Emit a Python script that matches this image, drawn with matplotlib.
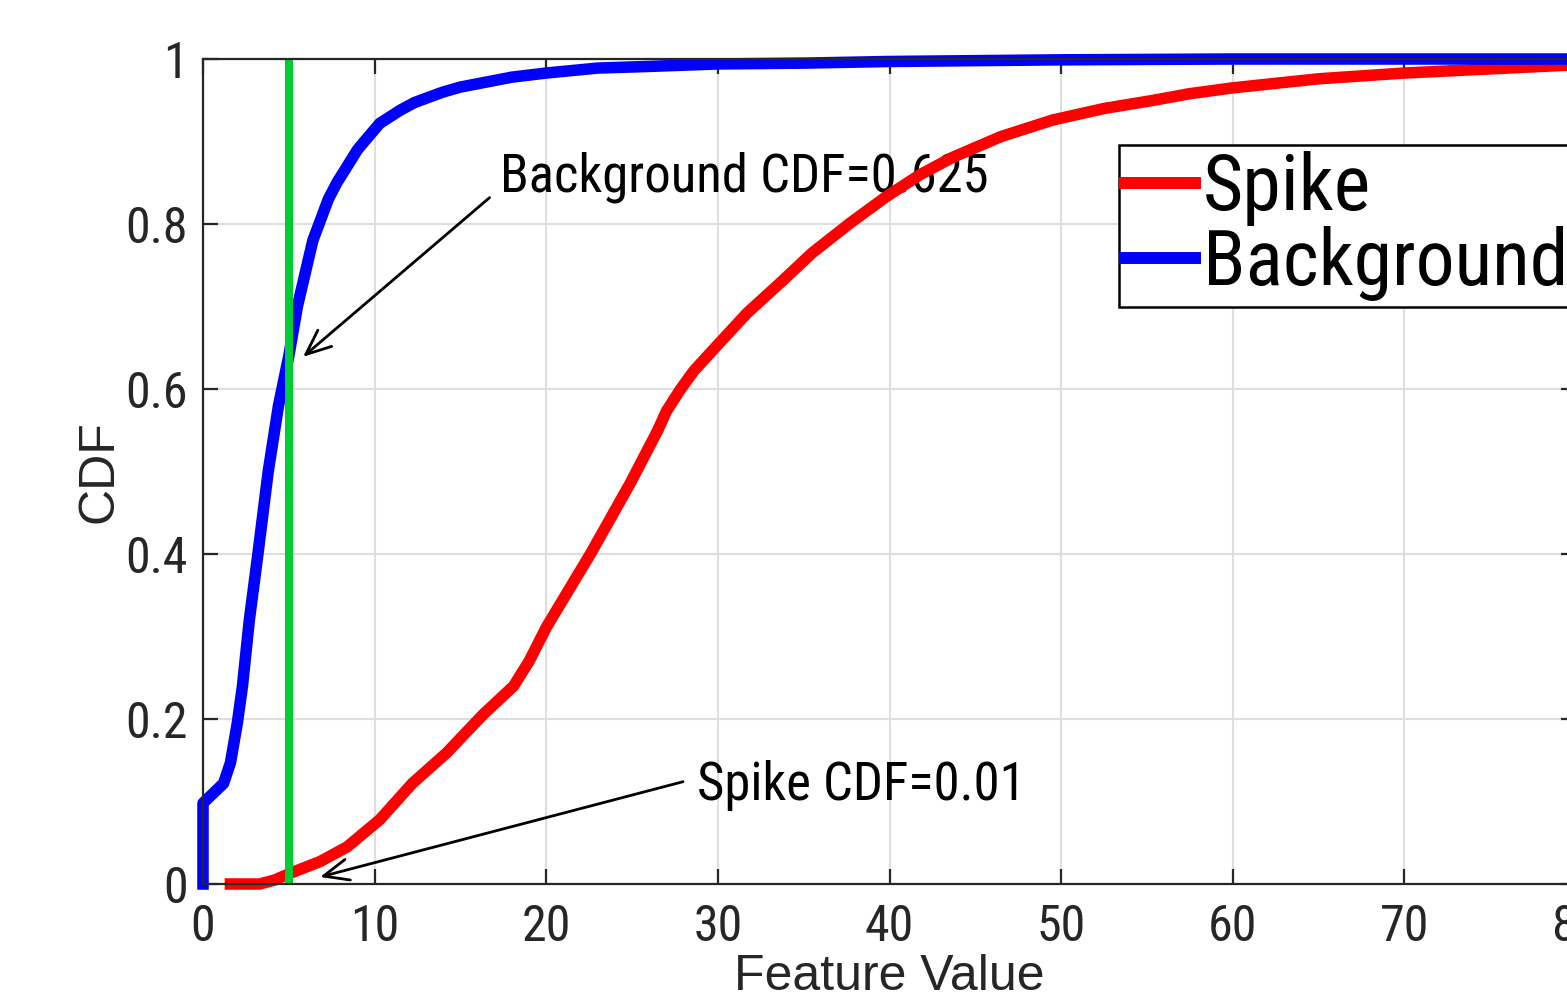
import matplotlib
matplotlib.use("Agg")
import matplotlib.pyplot as plt
from matplotlib import font_manager as fm

# ---------------- data ----------------
spike_x = [1.6, 3.3, 4.2, 5.07, 6.8, 8.4, 10.3, 12.2, 14.2, 16.3, 18.1, 19.0, 20.0,
           22.6, 24.9, 26.5, 27.0, 27.8, 28.6, 29.7, 31.7, 33.6, 35.5, 37.7, 39.8,
           41.8, 43.7, 46.5, 49.5, 52.5, 55.4, 57.5, 60.0, 65.0, 70.0, 75.0, 80.0]
spike_y = [0.0, 0.0, 0.005, 0.013, 0.027, 0.045, 0.078, 0.122, 0.159, 0.205, 0.24,
           0.27, 0.311, 0.401, 0.486, 0.55, 0.573, 0.599, 0.622, 0.647, 0.692, 0.728,
           0.765, 0.801, 0.833, 0.860, 0.881, 0.906, 0.926, 0.940, 0.950, 0.958,
           0.965, 0.976, 0.983, 0.988, 0.993]

bg_x = [0.0, 0.0, 0.6, 1.2, 1.6, 2.0, 2.3, 2.7, 3.2, 3.8, 4.4, 5.0, 5.5, 6.4, 7.3,
        7.8, 8.4, 9.0, 9.4, 10.3, 11.5, 12.3, 13.2, 14.0, 15.0, 16.5, 18.0, 20.0,
        23.0, 26.0, 30.0, 35.0, 40.0, 50.0, 60.0, 70.0, 80.0]
bg_y = [0.0, 0.098, 0.11, 0.122, 0.147, 0.195, 0.24, 0.32, 0.40, 0.50, 0.58, 0.64,
        0.70, 0.78, 0.83, 0.85, 0.87, 0.89, 0.90, 0.922, 0.938, 0.947, 0.954, 0.960,
        0.966, 0.972, 0.978, 0.983, 0.989, 0.991, 0.994, 0.995, 0.997, 0.999, 1.0,
        1.0, 1.0]

threshold = 5.0
series_labels = ["Spike", "Background"]
x_ticks = [0, 10, 20, 30, 40, 50, 60, 70, 80]
y_ticks = [0, 0.2, 0.4, 0.6, 0.8, 1.0]
y_tick_labels = ["0", "0.2", "0.4", "0.6", "0.8", "1"]
bg_note = "Background CDF=0.625"
spike_note = "Spike CDF=0.01"
bg_note_text_xy = (17.3, 0.839)
bg_note_tail = (16.7, 0.832)
bg_note_head = (5.83, 0.639)
spike_note_text_xy = (28.8, 0.102)
spike_note_tail = (27.97, 0.124)
spike_note_head = (6.82, 0.0085)

# ---------------- fonts ----------------
names = {f.name for f in fm.fontManager.ttflist}
regular = "Liberation Sans" if "Liberation Sans" in names else "DejaVu Sans"
narrow = None
for cand in ["Roboto Condensed", "Liberation Sans Narrow", "Arial Narrow"]:
    if cand in names:
        narrow = cand
        break
if narrow is None:
    narrow = regular
    tick_fs, note_fs, leg_fs = 33, 33, 50
else:
    tick_fs, note_fs, leg_fs = 36, 38, 56

DARK = "#262626"

fig = plt.figure(figsize=(15.67, 10), dpi=100)
W, H = 1567.0, 1000.0
ax_left, ax_right, ax_bottom, ax_top = 203, 1576, 884, 59
ax = fig.add_axes([ax_left / W, 1 - ax_bottom / H, (ax_right - ax_left) / W,
                   (ax_bottom - ax_top) / H])

ax.plot(spike_x, spike_y, color="#FF0000", lw=8.3, label=series_labels[0],
        zorder=4, clip_on=False, solid_joinstyle="round")
ax.plot(bg_x, bg_y, color="#0000FF", lw=8.3, label=series_labels[1],
        zorder=4.1, clip_on=False, solid_joinstyle="round")
ax.axvline(threshold, color="#00CC33", lw=5.8, zorder=4.2)

ax.set_xlim(0, 80)
ax.set_ylim(0, 1)
ax.set_xticks(x_ticks)
ax.set_xticklabels([str(t) for t in x_ticks])
ax.set_yticks(y_ticks)
ax.set_yticklabels(y_tick_labels)

ax.grid(True, color="#dedede", lw=1.5, zorder=0)
ax.set_axisbelow(True)
for s in ax.spines.values():
    s.set_color(DARK)
    s.set_linewidth(1.6)
    s.set_zorder(5)
ax.tick_params(direction="in", length=11, width=1.6, color=DARK, top=True,
               right=True, labelcolor=DARK)
ax.tick_params(axis="x", pad=14)
ax.tick_params(axis="y", pad=11)
for lab in ax.get_xticklabels() + ax.get_yticklabels():
    lab.set_fontfamily(narrow)
    lab.set_fontsize(tick_fs)

ax.set_xlabel("Feature Value", fontsize=36, family=regular, color=DARK,
              va="baseline")
ax.xaxis.set_label_coords(0.5, (884 - 990) / 825.0)
ax.set_ylabel("CDF", fontsize=36, family=regular, color=DARK, va="baseline")
ax.yaxis.set_label_coords((112 - 203) / 1373.0, 0.5)

# annotations
ax.text(*bg_note_text_xy, bg_note, fontsize=note_fs, family=narrow, color="black",
        va="baseline", ha="left", zorder=3)
ax.text(*spike_note_text_xy, spike_note, fontsize=note_fs, family=narrow,
        color="black", va="baseline", ha="left", zorder=3)
arrow_kw = dict(arrowstyle="->, head_length=0.4, head_width=0.17", lw=2.0,
                color="black", mutation_scale=45, shrinkA=0, shrinkB=0)
ax.annotate("", xy=bg_note_head, xytext=bg_note_tail, arrowprops=arrow_kw,
            zorder=3.5)
ax.annotate("", xy=spike_note_head, xytext=spike_note_tail, arrowprops=arrow_kw,
            zorder=3.5)

leg = ax.legend(loc="upper left", bbox_to_anchor=(1119 / W, 1 - 145 / H),
                bbox_transform=fig.transFigure, borderaxespad=0,
                prop={"family": narrow, "size": leg_fs},
                handlelength=0.9, handletextpad=0.1, labelspacing=0.0,
                borderpad=0.08, fancybox=False, framealpha=1, edgecolor="black")
leg.get_frame().set_linewidth(1.8)
leg.set_zorder(6)
for ln in leg.get_lines():
    ln.set_linewidth(8.6)

fig.savefig("out.png", dpi=100, facecolor="white")
